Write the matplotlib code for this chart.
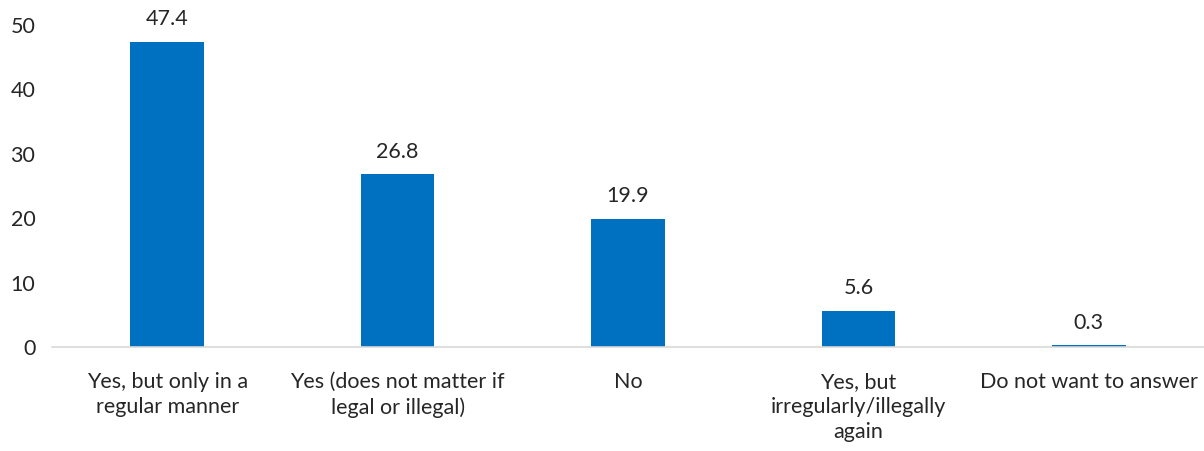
import numpy as np
import matplotlib.pyplot as plt

# Chart data
categories = [
    "Yes, but only in a\nregular manner",
    "Yes (does not matter if\nlegal or illegal)",
    "No",
    "Yes, but\nirregularly/illegally\nagain",
    "Do not want to answer",
]
values = [47.4, 26.8, 19.9, 5.6, 0.3]
y_ticks = [0, 10, 20, 30, 40, 50]

plt.rcParams['font.family'] = ['Lato', 'DejaVu Sans']
plt.rcParams['font.size'] = 15.5

fig = plt.figure(figsize=(12.04, 4.51), dpi=100)
ax = fig.add_axes([0.0432, 0.2306, 0.9568, 0.714])

x = np.arange(len(categories))
bars = ax.bar(x, values, width=0.32, color='#0070C0', linewidth=0)

for b, v in zip(bars, values):
    ax.annotate(f"{v:.1f}", (b.get_x() + b.get_width() / 2, v),
                xytext=(0, 9), textcoords='offset points',
                ha='center', va='bottom', color='#262626')

ax.set_xlim(-0.5, len(categories) - 0.5)
ax.set_ylim(0, 50)
ax.set_yticks(y_ticks)
ax.set_xticks(x)
ax.set_xticklabels(categories, color='#262626', linespacing=1.32)
ax.tick_params(axis='y', length=0, pad=12, colors='#262626')
ax.tick_params(axis='x', length=0, pad=18)

for side in ['left', 'right', 'top']:
    ax.spines[side].set_visible(False)
ax.spines['bottom'].set_color('#D9D9D9')
ax.spines['bottom'].set_linewidth(1.2)

fig.savefig('out.png', dpi=100)
